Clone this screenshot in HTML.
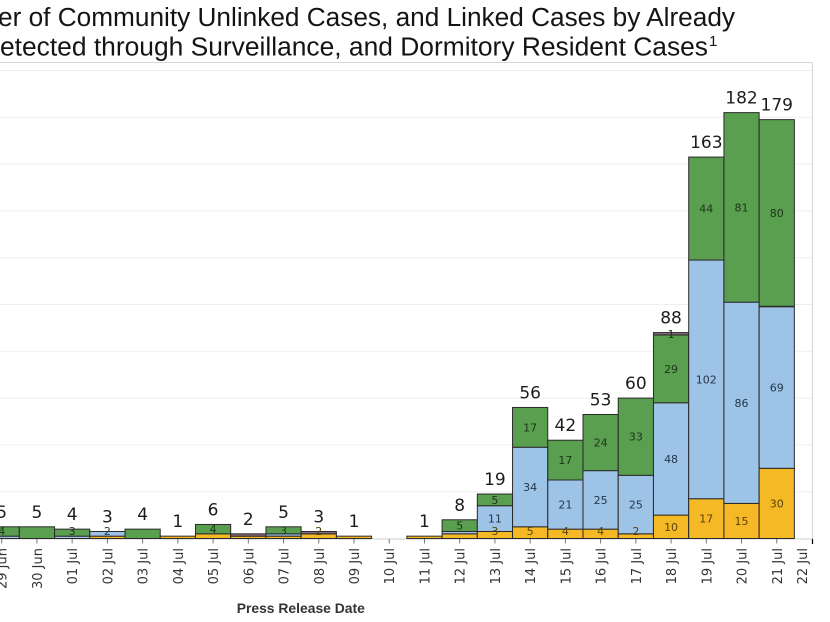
<!DOCTYPE html>
<html><head><meta charset="utf-8"><style>
html,body{margin:0;padding:0;background:#fff;}
svg{display:block;}
.t{font-family:"Liberation Sans",Arial,sans-serif;fill:#141414;}
.tot{font-family:"DejaVu Sans","Liberation Sans",sans-serif;font-size:17px;fill:#1c1c1c;text-anchor:middle;}
.in{font-family:"DejaVu Sans","Liberation Sans",sans-serif;font-size:11px;text-anchor:middle;}
.ig{fill:#1d3519;} .ib{fill:#27364d;} .iy{fill:#5a4207;} .ip{fill:#2a2a2a;}
.tk{font-family:"DejaVu Sans","Liberation Sans",sans-serif;font-size:13px;fill:#333;text-anchor:end;}
.g{fill:#5a9e50;stroke:#2a2a2a;stroke-width:1;}
.b{fill:#9dc3e6;stroke:#2a2a2a;stroke-width:1;}
.y{fill:#f5b925;stroke:#2a2a2a;stroke-width:1;}
.p{fill:#8a6a7c;stroke:#2a2a2a;stroke-width:1;}
</style></head><body>
<svg width="830" height="622" viewBox="0 0 830 622" xmlns="http://www.w3.org/2000/svg">
<rect width="830" height="622" fill="#fff"/>
<!-- title -->
<text class="t" x="-2" y="26" font-size="26.2" textLength="737" lengthAdjust="spacingAndGlyphs">er of Community Unlinked Cases, and Linked Cases by Already</text>
<text class="t" x="0" y="55.5" font-size="26.2" textLength="708" lengthAdjust="spacingAndGlyphs">etected through Surveillance, and Dormitory Resident Cases</text>
<text class="t" x="709" y="46" font-size="15">1</text>
<!-- frame & grid -->
<g stroke="#efefef" stroke-width="1">
<line x1="0" x2="812" y1="491.7" y2="491.7"/>
<line x1="0" x2="812" y1="444.9" y2="444.9"/>
<line x1="0" x2="812" y1="398.1" y2="398.1"/>
<line x1="0" x2="812" y1="351.3" y2="351.3"/>
<line x1="0" x2="812" y1="304.5" y2="304.5"/>
<line x1="0" x2="812" y1="257.7" y2="257.7"/>
<line x1="0" x2="812" y1="210.9" y2="210.9"/>
<line x1="0" x2="812" y1="164.1" y2="164.1"/>
<line x1="0" x2="812" y1="117.3" y2="117.3"/>
<line x1="0" x2="812" y1="70.5" y2="70.5"/>
</g>
<line x1="0" x2="812.5" y1="62.5" y2="62.5" stroke="#d6d6d6" stroke-width="1"/>
<line x1="812.5" x2="812.5" y1="62.5" y2="539" stroke="#d6d6d6" stroke-width="1"/>
<line x1="0" x2="812.5" y1="539" y2="539" stroke="#cfcfcf" stroke-width="1"/>

<!-- bars -->
<g>
<rect class="b" x="-15.9" y="536.16" width="35.2" height="2.34"/>
<rect class="g" x="-15.9" y="526.8" width="35.2" height="9.36"/>
<rect class="g" x="19.33" y="526.8" width="35.2" height="11.7"/>
<rect class="b" x="54.56" y="536.16" width="35.2" height="2.34"/>
<rect class="g" x="54.56" y="529.14" width="35.2" height="7.02"/>
<rect class="y" x="89.79" y="536.16" width="35.2" height="2.34"/>
<rect class="b" x="89.79" y="531.48" width="35.2" height="4.68"/>
<rect class="g" x="125.02" y="529.14" width="35.2" height="9.36"/>
<rect class="y" x="160.25" y="536.16" width="35.2" height="2.34"/>
<rect class="y" x="195.48" y="533.82" width="35.2" height="4.68"/>
<rect class="g" x="195.48" y="524.46" width="35.2" height="9.36"/>
<rect class="y" x="230.71" y="536.16" width="35.2" height="2.34"/>
<rect class="p" x="230.71" y="533.82" width="35.2" height="2.34"/>
<rect class="y" x="265.94" y="536.16" width="35.2" height="2.34"/>
<rect class="b" x="265.94" y="533.82" width="35.2" height="2.34"/>
<rect class="g" x="265.94" y="526.8" width="35.2" height="7.02"/>
<rect class="y" x="301.17" y="533.82" width="35.2" height="4.68"/>
<rect class="p" x="301.17" y="531.48" width="35.2" height="2.34"/>
<rect class="y" x="336.4" y="536.16" width="35.2" height="2.34"/>
<rect class="y" x="406.86" y="536.16" width="35.2" height="2.34"/>
<rect class="y" x="442.09" y="533.82" width="35.2" height="4.68"/>
<rect class="b" x="442.09" y="531.48" width="35.2" height="2.34"/>
<rect class="g" x="442.09" y="519.78" width="35.2" height="11.7"/>
<rect class="y" x="477.32" y="531.48" width="35.2" height="7.02"/>
<rect class="b" x="477.32" y="505.74" width="35.2" height="25.74"/>
<rect class="g" x="477.32" y="494.04" width="35.2" height="11.7"/>
<rect class="y" x="512.55" y="526.8" width="35.2" height="11.7"/>
<rect class="b" x="512.55" y="447.24" width="35.2" height="79.56"/>
<rect class="g" x="512.55" y="407.46" width="35.2" height="39.78"/>
<rect class="y" x="547.78" y="529.14" width="35.2" height="9.36"/>
<rect class="b" x="547.78" y="480.0" width="35.2" height="49.14"/>
<rect class="g" x="547.78" y="440.22" width="35.2" height="39.78"/>
<rect class="y" x="583.01" y="529.14" width="35.2" height="9.36"/>
<rect class="b" x="583.01" y="470.64" width="35.2" height="58.5"/>
<rect class="g" x="583.01" y="414.48" width="35.2" height="56.16"/>
<rect class="y" x="618.24" y="533.82" width="35.2" height="4.68"/>
<rect class="b" x="618.24" y="475.32" width="35.2" height="58.5"/>
<rect class="g" x="618.24" y="398.1" width="35.2" height="77.22"/>
<rect class="y" x="653.47" y="515.1" width="35.2" height="23.4"/>
<rect class="b" x="653.47" y="402.78" width="35.2" height="112.32"/>
<rect class="g" x="653.47" y="334.92" width="35.2" height="67.86"/>
<rect class="p" x="653.47" y="332.58" width="35.2" height="2.34"/>
<rect class="y" x="688.7" y="498.72" width="35.2" height="39.78"/>
<rect class="b" x="688.7" y="260.04" width="35.2" height="238.68"/>
<rect class="g" x="688.7" y="157.08" width="35.2" height="102.96"/>
<rect class="y" x="723.93" y="503.4" width="35.2" height="35.1"/>
<rect class="b" x="723.93" y="302.16" width="35.2" height="201.24"/>
<rect class="g" x="723.93" y="112.62" width="35.2" height="189.54"/>
<rect class="y" x="759.16" y="468.3" width="35.2" height="70.2"/>
<rect class="b" x="759.16" y="306.84" width="35.2" height="161.46"/>
<rect class="g" x="759.16" y="119.64" width="35.2" height="186.66"/>
</g>

<!-- inner labels -->
<g>
<text class="in ig" x="1.7" y="534.8">4</text>
<text class="in ig" x="72.16" y="534.8">3</text>
<text class="in ib" x="107.39" y="534.8">2</text>
<text class="in ig" x="213.08" y="533.1">4</text>
<text class="in ig" x="283.54" y="534.3">3</text>
<text class="in iy" x="318.77" y="534.8">2</text>
<text class="in ig" x="459.69" y="529.6">5</text>
<text class="in iy" x="494.92" y="534.8">3</text>
<text class="in ib" x="494.92" y="522.6">11</text>
<text class="in ig" x="494.92" y="503.9">5</text>
<text class="in iy" x="530.15" y="534.8">5</text>
<text class="in ib" x="530.15" y="491.0">34</text>
<text class="in ig" x="530.15" y="431.4">17</text>
<text class="in iy" x="565.38" y="534.8">4</text>
<text class="in ib" x="565.38" y="508.6">21</text>
<text class="in ig" x="565.38" y="464.1">17</text>
<text class="in iy" x="600.61" y="534.8">4</text>
<text class="in ib" x="600.61" y="503.9">25</text>
<text class="in ig" x="600.61" y="446.6">24</text>
<text class="in iy" x="635.84" y="534.8">2</text>
<text class="in ib" x="635.84" y="508.6">25</text>
<text class="in ig" x="635.84" y="440.7">33</text>
<text class="in iy" x="671.07" y="530.8">10</text>
<text class="in ib" x="671.07" y="462.9">48</text>
<text class="in ig" x="671.07" y="372.9">29</text>
<text class="in ip" x="671.07" y="337.8">1</text>
<text class="in iy" x="706.3" y="522.6">17</text>
<text class="in ib" x="706.3" y="383.4">102</text>
<text class="in ig" x="706.3" y="212.6">44</text>
<text class="in iy" x="741.53" y="525.0">15</text>
<text class="in ib" x="741.53" y="406.8">86</text>
<text class="in ig" x="741.53" y="211.4">81</text>
<text class="in iy" x="776.76" y="507.4">30</text>
<text class="in ib" x="776.76" y="391.6">69</text>
<text class="in ig" x="776.76" y="217.2">80</text>
</g>

<!-- totals -->
<g>
<text class="tot" x="1.7" y="517.8">5</text>
<text class="tot" x="36.93" y="517.8">5</text>
<text class="tot" x="72.16" y="520.1">4</text>
<text class="tot" x="107.39" y="522.5">3</text>
<text class="tot" x="142.62" y="520.1">4</text>
<text class="tot" x="177.85" y="527.2">1</text>
<text class="tot" x="213.08" y="515.5">6</text>
<text class="tot" x="248.31" y="524.8">2</text>
<text class="tot" x="283.54" y="517.8">5</text>
<text class="tot" x="318.77" y="522.5">3</text>
<text class="tot" x="354.0" y="527.2">1</text>
<text class="tot" x="424.46" y="527.2">1</text>
<text class="tot" x="459.69" y="510.8">8</text>
<text class="tot" x="494.92" y="485.0">19</text>
<text class="tot" x="530.15" y="398.5">56</text>
<text class="tot" x="565.38" y="431.2">42</text>
<text class="tot" x="600.61" y="405.5">53</text>
<text class="tot" x="635.84" y="389.1">60</text>
<text class="tot" x="671.07" y="323.6">88</text>
<text class="tot" x="706.3" y="148.1">163</text>
<text class="tot" x="741.53" y="103.6">182</text>
<text class="tot" x="776.76" y="110.6">179</text>
</g>

<!-- ticks -->
<g stroke="#777" stroke-width="1">
<line x1="1.7" x2="1.7" y1="539" y2="543.5"/>
<line x1="36.93" x2="36.93" y1="539" y2="543.5"/>
<line x1="72.16" x2="72.16" y1="539" y2="543.5"/>
<line x1="107.39" x2="107.39" y1="539" y2="543.5"/>
<line x1="142.62" x2="142.62" y1="539" y2="543.5"/>
<line x1="177.85" x2="177.85" y1="539" y2="543.5"/>
<line x1="213.08" x2="213.08" y1="539" y2="543.5"/>
<line x1="248.31" x2="248.31" y1="539" y2="543.5"/>
<line x1="283.54" x2="283.54" y1="539" y2="543.5"/>
<line x1="318.77" x2="318.77" y1="539" y2="543.5"/>
<line x1="354.0" x2="354.0" y1="539" y2="543.5"/>
<line x1="389.23" x2="389.23" y1="539" y2="543.5"/>
<line x1="424.46" x2="424.46" y1="539" y2="543.5"/>
<line x1="459.69" x2="459.69" y1="539" y2="543.5"/>
<line x1="494.92" x2="494.92" y1="539" y2="543.5"/>
<line x1="530.15" x2="530.15" y1="539" y2="543.5"/>
<line x1="565.38" x2="565.38" y1="539" y2="543.5"/>
<line x1="600.61" x2="600.61" y1="539" y2="543.5"/>
<line x1="635.84" x2="635.84" y1="539" y2="543.5"/>
<line x1="671.07" x2="671.07" y1="539" y2="543.5"/>
<line x1="706.3" x2="706.3" y1="539" y2="543.5"/>
<line x1="741.53" x2="741.53" y1="539" y2="543.5"/>
<line x1="776.76" x2="776.76" y1="539" y2="543.5"/>
</g>
<line x1="812.5" x2="812.5" y1="539" y2="544" stroke="#000" stroke-width="1.2"/>

<!-- tick labels -->
<g>
<text class="tk" transform="translate(6.7,548) rotate(-90)">29 Jun</text>
<text class="tk" transform="translate(41.9,548) rotate(-90)">30 Jun</text>
<text class="tk" transform="translate(77.2,548) rotate(-90)">01 Jul</text>
<text class="tk" transform="translate(112.4,548) rotate(-90)">02 Jul</text>
<text class="tk" transform="translate(147.6,548) rotate(-90)">03 Jul</text>
<text class="tk" transform="translate(182.9,548) rotate(-90)">04 Jul</text>
<text class="tk" transform="translate(218.1,548) rotate(-90)">05 Jul</text>
<text class="tk" transform="translate(253.3,548) rotate(-90)">06 Jul</text>
<text class="tk" transform="translate(288.5,548) rotate(-90)">07 Jul</text>
<text class="tk" transform="translate(323.8,548) rotate(-90)">08 Jul</text>
<text class="tk" transform="translate(359.0,548) rotate(-90)">09 Jul</text>
<text class="tk" transform="translate(394.2,548) rotate(-90)">10 Jul</text>
<text class="tk" transform="translate(429.5,548) rotate(-90)">11 Jul</text>
<text class="tk" transform="translate(464.7,548) rotate(-90)">12 Jul</text>
<text class="tk" transform="translate(499.9,548) rotate(-90)">13 Jul</text>
<text class="tk" transform="translate(535.2,548) rotate(-90)">14 Jul</text>
<text class="tk" transform="translate(570.4,548) rotate(-90)">15 Jul</text>
<text class="tk" transform="translate(605.6,548) rotate(-90)">16 Jul</text>
<text class="tk" transform="translate(640.8,548) rotate(-90)">17 Jul</text>
<text class="tk" transform="translate(676.1,548) rotate(-90)">18 Jul</text>
<text class="tk" transform="translate(711.3,548) rotate(-90)">19 Jul</text>
<text class="tk" transform="translate(746.5,548) rotate(-90)">20 Jul</text>
<text class="tk" transform="translate(781.8,548) rotate(-90)">21 Jul</text>
<text class="tk" transform="translate(807.2,548) rotate(-90)">22 Jul</text>
</g>

<text x="300.8" y="613" text-anchor="middle" font-family="Liberation Sans, Arial, sans-serif" font-weight="bold" font-size="13.9" fill="#333">Press Release Date</text>
</svg>
</body></html>
